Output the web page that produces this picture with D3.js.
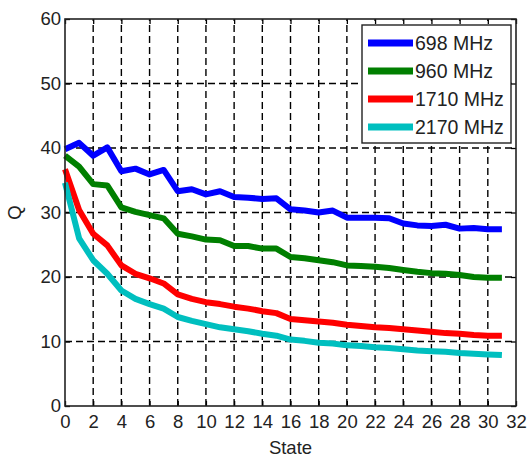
<!DOCTYPE html>
<html>
<head>
<meta charset="utf-8">
<script src="https://cdn.jsdelivr.net/npm/d3@7"></script>
<style>
    body { margin: 0; background: #fff; }
    text { font-family: "Liberation Sans", Arial, sans-serif; fill: #222; }
</style>
</head>
<body>
<svg id="chart" width="532" height="461"></svg>
<script>
/**
 * Data.
 */
const states = d3.range(0, 32);
const q698 = [39.8, 40.8, 38.8, 40.1, 36.4, 36.8, 35.9, 36.6, 33.3, 33.6, 32.8, 33.3, 32.4,
    32.3, 32.1, 32.2, 30.5, 30.3, 30.0, 30.3, 29.2, 29.2, 29.2, 29.1, 28.3, 28.0, 27.9, 28.1,
    27.5, 27.6, 27.4, 27.4];
const q960 = [38.8, 37.1, 34.4, 34.2, 30.8, 30.1, 29.6, 29.1, 26.7, 26.3, 25.8, 25.7, 24.8,
    24.8, 24.4, 24.4, 23.1, 22.9, 22.6, 22.3, 21.8, 21.7, 21.6, 21.4, 21.1, 20.8, 20.6, 20.5,
    20.3, 20.0, 19.9, 19.9];
const q1710 = [36.7, 30.4, 26.7, 24.9, 21.8, 20.5, 19.8, 19.0, 17.3, 16.6, 16.1, 15.8, 15.4,
    15.1, 14.7, 14.4, 13.5, 13.3, 13.1, 12.9, 12.6, 12.4, 12.2, 12.1, 11.9, 11.7, 11.5, 11.3,
    11.2, 11.0, 10.9, 10.9];
const q2170 = [34.6, 26.0, 22.6, 20.5, 17.9, 16.6, 15.8, 15.1, 13.8, 13.2, 12.7, 12.2, 11.9,
    11.6, 11.2, 10.9, 10.3, 10.1, 9.8, 9.7, 9.4, 9.3, 9.1, 9.0, 8.8, 8.6, 8.5, 8.4, 8.2, 8.1,
    8.0, 7.9];
const seriesNames = ['698 MHz', '960 MHz', '1710 MHz', '2170 MHz'];
const seriesColors = ['#0000ff', '#007f00', '#ff0000', '#00bfbf'];
const xTicks = d3.range(0, 33, 2);
const yTicks = [0, 10, 20, 30, 40, 50, 60];

/**
 * Visual configs.
 */
const margin = { top: 19, right: 16, bottom: 55, left: 65 };
const visWidth = 532, visHeight = 461;
const width = visWidth - margin.left - margin.right,
    height = visHeight - margin.top - margin.bottom;

const svg = d3.select('#chart');
const g = svg.append('g').attr('transform', 'translate(' + margin.left + ',' + margin.top + ')');

const xScale = d3.scaleLinear().domain([0, 32]).range([0, width]);
const yScale = d3.scaleLinear().domain([0, 60]).range([height, 0]);

// Grid
const grid = g.append('g').attr('class', 'grid')
    .attr('stroke', '#000').attr('stroke-width', 1.4).attr('stroke-dasharray', '7,4');
grid.selectAll('line.v').data(xTicks.slice(1, -1)).enter().append('line')
    .attr('class', 'v')
    .attr('x1', d => xScale(d)).attr('x2', d => xScale(d))
    .attr('y1', height).attr('y2', 0);
grid.selectAll('line.h').data(yTicks.slice(1, -1)).enter().append('line')
    .attr('class', 'h')
    .attr('x1', 0).attr('x2', width)
    .attr('y1', d => yScale(d)).attr('y2', d => yScale(d));

// Axes with inward ticks on all four sides
function styleAxis(sel) {
    sel.select('.domain').remove();
    sel.selectAll('line').attr('stroke', '#000').attr('stroke-width', 1.3);
    sel.selectAll('text').attr('font-size', 18.5).attr('fill', '#222');
}
g.append('g').attr('transform', 'translate(0,' + height + ')')
    .call(d3.axisBottom(xScale).tickValues(xTicks).tickSizeInner(-5).tickSizeOuter(0).tickPadding(9))
    .call(styleAxis);
g.append('g')
    .call(d3.axisLeft(yScale).tickValues(yTicks).tickSizeInner(-5).tickSizeOuter(0).tickPadding(4))
    .call(styleAxis);
g.append('g')
    .call(d3.axisTop(xScale).tickValues(xTicks).tickSizeInner(-5).tickSizeOuter(0).tickFormat(''))
    .call(styleAxis);
g.append('g').attr('transform', 'translate(' + width + ',0)')
    .call(d3.axisRight(yScale).tickValues(yTicks).tickSizeInner(-5).tickSizeOuter(0).tickFormat(''))
    .call(styleAxis);

// Lines
const line = d3.line().x((d, i) => xScale(states[i])).y(d => yScale(d));
g.append('g').attr('class', 'items').selectAll('path')
    .data([q698, q960, q1710, q2170]).enter().append('path')
    .attr('fill', 'none')
    .attr('stroke', (d, i) => seriesColors[i])
    .attr('stroke-width', 6)
    .attr('stroke-linejoin', 'round')
    .attr('d', line);

// Plot box
g.append('rect').attr('width', width).attr('height', height)
    .attr('fill', 'none').attr('stroke', '#222').attr('stroke-width', 1.6);

// Axis labels
g.append('text').attr('x', width / 2).attr('y', height + 48)
    .attr('text-anchor', 'middle').attr('font-size', 18.5).text('State');
g.append('text').attr('transform', 'translate(-44,' + (height / 2) + ') rotate(-90)')
    .attr('text-anchor', 'middle').attr('font-size', 18.5).text('Q');

// Legend
const legend = g.append('g').attr('transform', 'translate(' + (362 - margin.left) + ',' + (25 - margin.top) + ')');
legend.append('rect').attr('width', 149).attr('height', 118)
    .attr('fill', '#fff').attr('stroke', '#222').attr('stroke-width', 1.4);
const entries = legend.selectAll('g.entry').data(seriesNames).enter().append('g')
    .attr('class', 'entry')
    .attr('transform', (d, i) => 'translate(0,' + (18 + i * 28) + ')');
entries.append('line').attr('x1', 6).attr('x2', 51)
    .attr('stroke', (d, i) => seriesColors[i]).attr('stroke-width', 7);
entries.append('text').attr('x', 53).attr('dy', '0.36em').attr('font-size', 19.5).text(d => d);
</script>
</body>
</html>
